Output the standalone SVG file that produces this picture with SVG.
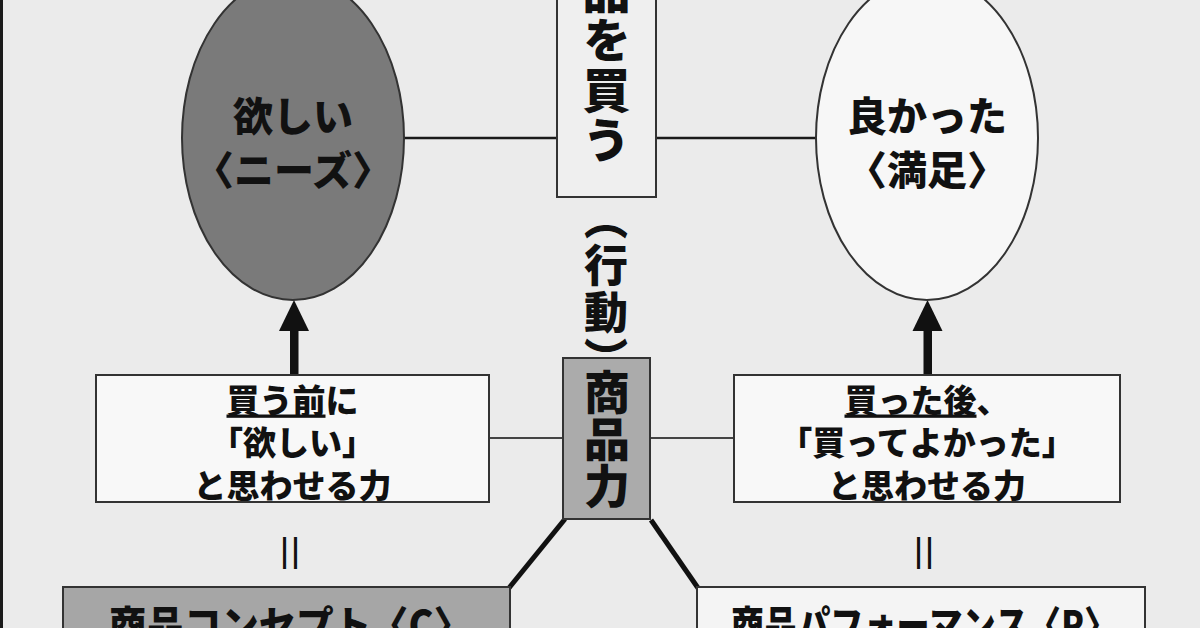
<svg xmlns="http://www.w3.org/2000/svg" width="1200" height="628" viewBox="0 0 1200 628">
<style>
text { font-family: "Noto Sans CJK JP", "Noto Sans CJK SC", sans-serif; font-weight: 900; fill: #111; }
.vt { writing-mode: vertical-rl; }
.box { stroke: #333; stroke-width: 2; }
.hl { stroke: #1a1a1a; stroke-width: 2.5; fill: none; }
.ml { stroke: #444; stroke-width: 2; fill: none; }
.diag { stroke: #111; stroke-width: 5; fill: none; }
.arrow { fill: #111; }
.eq { font-weight: 400; font-size: 44px; }
.ul { text-decoration: underline; }
</style>
<rect width="1200" height="628" fill="#ebebeb"/>
<rect x="0" y="0" width="3" height="628" fill="#1a1a1a"/>

<g id="connectors">
  <line class="hl" x1="403" y1="138" x2="557" y2="138"/>
  <line class="hl" x1="656" y1="138" x2="817" y2="138"/>
  <line class="ml" x1="489" y1="438" x2="563" y2="438"/>
  <line class="ml" x1="650" y1="438" x2="734" y2="438"/>
  <line class="diag" x1="565" y1="519" x2="509" y2="588"/>
  <line class="diag" x1="651" y1="520" x2="698" y2="588"/>
  <rect class="arrow" x="290" y="328" width="8.5" height="47"/>
  <polygon class="arrow" points="294,300 279,331 309,331"/>
  <rect class="arrow" x="923.5" y="328" width="8.5" height="47"/>
  <polygon class="arrow" points="927.5,300 912.5,331 942.5,331"/>
</g>

<g id="needs">
  <ellipse cx="293" cy="138" rx="111" ry="162" fill="#7a7a7a" stroke="#333" stroke-width="2"/>
  <text x="293" y="131" font-size="40" text-anchor="middle">欲しい</text>
  <text x="293" y="185" font-size="40" text-anchor="middle">〈ニーズ〉</text>
</g>

<g id="satisfaction">
  <ellipse cx="927" cy="138" rx="111" ry="162" fill="#f7f7f7" stroke="#333" stroke-width="2"/>
  <text x="927" y="131" font-size="40" text-anchor="middle">良かった</text>
  <text x="927" y="185" font-size="40" text-anchor="middle">〈満足〉</text>
</g>

<g id="buy">
  <rect class="box" x="557" y="-10" width="99" height="207" fill="#efefef"/>
  <text class="vt" x="606.5" y="-84" font-size="48" letter-spacing="2">商品を買う</text>
</g>

<g id="action">
  <text class="vt" x="606" y="196" font-size="44" letter-spacing="3">（行動）</text>
</g>

<g id="product-power">
  <rect class="box" x="563" y="358" width="87" height="161" fill="#ababab"/>
  <text class="vt" x="607" y="369" font-size="46" letter-spacing="1">商品力</text>
</g>

<g id="before">
  <rect class="box" x="96" y="375" width="393" height="127" fill="#f8f8f8"/>
  <text x="292.5" y="412.5" font-size="33" text-anchor="middle"><tspan class="ul">買う前</tspan>に</text>
  <text x="292.5" y="455" font-size="33" text-anchor="middle">「欲しい」</text>
  <text x="292.5" y="497.5" font-size="33" text-anchor="middle">と思わせる力</text>
</g>

<g id="after">
  <rect class="box" x="734" y="375" width="386" height="127" fill="#f8f8f8"/>
  <text x="927" y="412.5" font-size="33" text-anchor="middle"><tspan class="ul">買った後</tspan>、</text>
  <text x="927" y="455" font-size="33" text-anchor="middle">「買ってよかった」</text>
  <text x="927" y="497.5" font-size="33" text-anchor="middle">と思わせる力</text>
</g>

<g id="eq-left">
  <text class="eq" transform="translate(292,553) rotate(90)" text-anchor="middle" dominant-baseline="central">＝</text>
</g>
<g id="eq-right">
  <text class="eq" transform="translate(926,553) rotate(90)" text-anchor="middle" dominant-baseline="central">＝</text>
</g>

<g id="concept">
  <rect class="box" x="63" y="587" width="447" height="60" fill="#a6a6a6"/>
  <text x="109" y="640" font-size="40" textLength="362" lengthAdjust="spacingAndGlyphs">商品コンセプト〈C〉</text>
</g>

<g id="performance">
  <rect class="box" x="697" y="587" width="448" height="60" fill="#f4f4f4"/>
  <text x="731" y="640" font-size="40" textLength="386" lengthAdjust="spacingAndGlyphs">商品パフォーマンス〈P〉</text>
</g>
</svg>
